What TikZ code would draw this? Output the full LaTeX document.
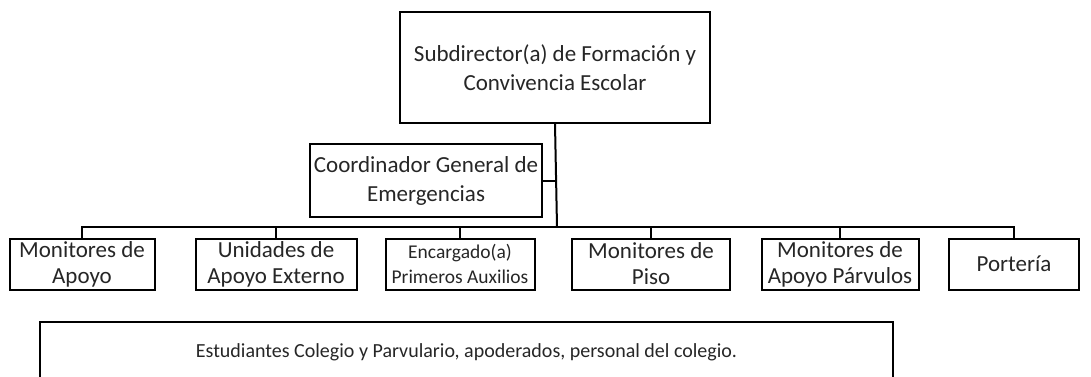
\documentclass[tikz,border=0pt]{standalone}
\usepackage{fontspec}
\setmainfont{Carlito}
\begin{document}
\begin{tikzpicture}[x=1pt,y=-1pt,
  box/.style={draw,line width=2pt,inner sep=0pt,align=center,font=\fontsize{23}{29}\selectfont,text=black!85},
  conn/.style={line width=2pt}]
\useasboundingbox (0,0) rectangle (1091,377);
\node[box,minimum width=310pt,minimum height=111pt] (top) at (555,67.5) {Subdirector(a) de Formación y\\Convivencia Escolar};
\node[box,minimum width=232pt,minimum height=73pt] (coord) at (426,180.5) {Coordinador General de\\Emergencias};
\coordinate (bus) at (557,227);
\coordinate (cj) at (557,181);
\begin{scope}[every node/.append style={box,minimum height=51pt,font=\fontsize{23}{26}\selectfont}]
\node[minimum width=145pt] (c1) at (82,264) {Monitores de\\Apoyo};
\node[minimum width=161pt] (c2) at (276,264) {Unidades de\\Apoyo Externo};
\node[minimum width=149pt,font=\fontsize{19.5}{25}\selectfont] (c3) at (460,264) {Encargado(a)\\Primeros Auxilios};
\node[minimum width=158pt] (c4) at (651,264) {Monitores de\\Piso};
\node[minimum width=157pt] (c5) at (840,264) {Monitores de\\Apoyo Párvulos};
\node[minimum width=130pt] (c6) at (1014,264) {Portería};
\end{scope}
\node[box,minimum width=853pt,minimum height=60pt,font=\fontsize{20}{24}\selectfont] (bot) at (466.5,352) {Estudiantes Colegio y Parvulario, apoderados, personal del colegio.};
\draw[conn] (top.south) -- (bus);
\draw[conn] (coord.east |- cj) -- (cj);
\draw[conn] (c1.north) -- (c1.north |- bus) -- (c6.north |- bus) -- (c6.north);
\foreach \c in {c2,c3,c4,c5} \draw[conn] (\c.north) -- (\c.north |- bus);
\end{tikzpicture}
\end{document}
